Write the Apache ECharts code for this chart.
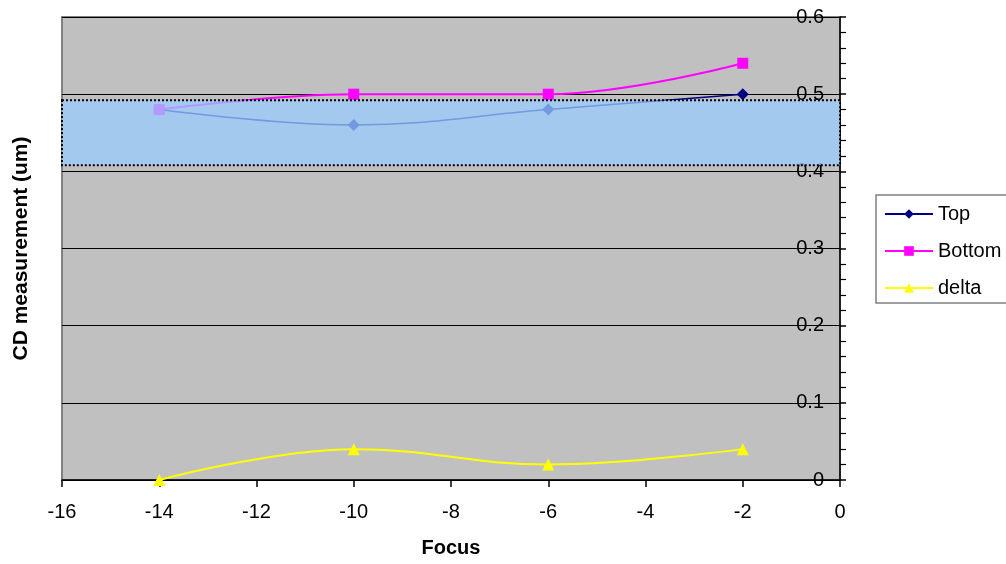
<!DOCTYPE html>
<html>
<head>
<meta charset="utf-8">
<script src="https://cdn.jsdelivr.net/npm/echarts@6/dist/echarts.min.js"></script>
<style>
html,body{margin:0;padding:0;background:#fff;}
#chart{width:1006px;height:564px;}
</style>
</head>
<body>
<div id="chart"></div>
<script>
var focus = [-14, -10, -6, -2];
var topCD = [0.48, 0.46, 0.48, 0.50];
var bottomCD = [0.48, 0.50, 0.50, 0.54];
var deltaCD = [0, 0.04, 0.02, 0.04];
var seriesNames = ['Top', 'Bottom', 'delta'];
var bandRange = [0.408, 0.492];
var xRange = [-16, 0];
var yRange = [0, 0.6];

function pairs(xs, ys) { return xs.map(function (x, i) { return [x, ys[i]]; }); }

var FONT = '"Liberation Sans", Arial, sans-serif';
var chart = echarts.init(document.getElementById('chart'), null, {renderer: 'canvas'});
var option = {
  animation: false,
  textStyle: {fontFamily: FONT, color: '#000'},
  grid: {left: 62, right: 166, top: 17, bottom: 84, show: true,
         backgroundColor: '#C0C0C0', borderColor: '#808080', borderWidth: 2},
  legend: {
    orient: 'vertical', left: 876, top: 195,
    padding: [9, 20, 5, 8],
    backgroundColor: '#fff', borderColor: '#808080', borderWidth: 1.5,
    itemWidth: 48, itemHeight: 12, itemGap: 17,
    textStyle: {fontFamily: FONT, fontSize: 20, color: '#000', lineHeight: 20, padding: [0, 0, 0, 0]},
    data: seriesNames
  },
  xAxis: {
    type: 'value', min: xRange[0], max: xRange[1], interval: 2,
    name: 'Focus', nameLocation: 'middle', nameGap: 58,
    nameTextStyle: {fontFamily: FONT, fontSize: 20, fontWeight: 'bold', color: '#000'},
    axisLine: {show: true, onZero: false, lineStyle: {color: '#000', width: 1.5}},
    axisTick: {show: true, length: 7, lineStyle: {color: '#000', width: 1.5}},
    axisLabel: {fontFamily: FONT, fontSize: 20, color: '#000', margin: 22},
    splitLine: {show: false}
  },
  yAxis: [{
    type: 'value', min: yRange[0], max: yRange[1], interval: 0.1, position: 'right',
    axisLine: {show: true, lineStyle: {color: '#000', width: 1.5}},
    axisTick: {show: true, length: 6, lineStyle: {color: '#000', width: 1.5}},
    minorTick: {show: true, splitNumber: 5, length: 6, lineStyle: {color: '#000', width: 1.2}},
    axisLabel: {inside: true, margin: 16, fontFamily: FONT, fontSize: 20, color: '#000',
                formatter: function (v) { return v === 0 ? '0' : String(Math.round(v * 10) / 10); }},
    splitLine: {show: true, lineStyle: {color: '#000', width: 1}}
  }, {
    type: 'value', min: yRange[0], max: yRange[1], position: 'left',
    name: 'CD measurement (um)', nameLocation: 'middle', nameGap: 30,
    nameTextStyle: {fontFamily: FONT, fontSize: 21, fontWeight: 'bold', color: '#000'},
    axisLine: {show: false}, axisTick: {show: false}, axisLabel: {show: false}, splitLine: {show: false}
  }],
  series: [
    {name: 'Top', type: 'line', smooth: 0.4, data: pairs(focus, topCD),
     symbol: 'diamond', symbolSize: 12,
     lineStyle: {color: '#000080', width: 1.5}, itemStyle: {color: '#000080'}},
    {name: 'Bottom', type: 'line', smooth: 0.4, data: pairs(focus, bottomCD),
     symbol: 'rect', symbolSize: 11,
     lineStyle: {color: '#FF00FF', width: 2}, itemStyle: {color: '#FF00FF'}},
    {name: 'delta', type: 'line', smooth: 0.4, data: pairs(focus, deltaCD),
     symbol: 'triangle', symbolSize: 12,
     lineStyle: {color: '#FFFF00', width: 2}, itemStyle: {color: '#FFFF00'},
     markArea: {
       silent: true, z: 10,
       itemStyle: {color: 'rgba(153,204,255,0.75)', borderColor: '#000', borderWidth: 2, borderType: [2, 2]},
       data: [[{coord: [xRange[0], bandRange[1]]}, {coord: [xRange[1], bandRange[0]]}]]
     }}
  ]
};
chart.setOption(option);
</script>
</body>
</html>
